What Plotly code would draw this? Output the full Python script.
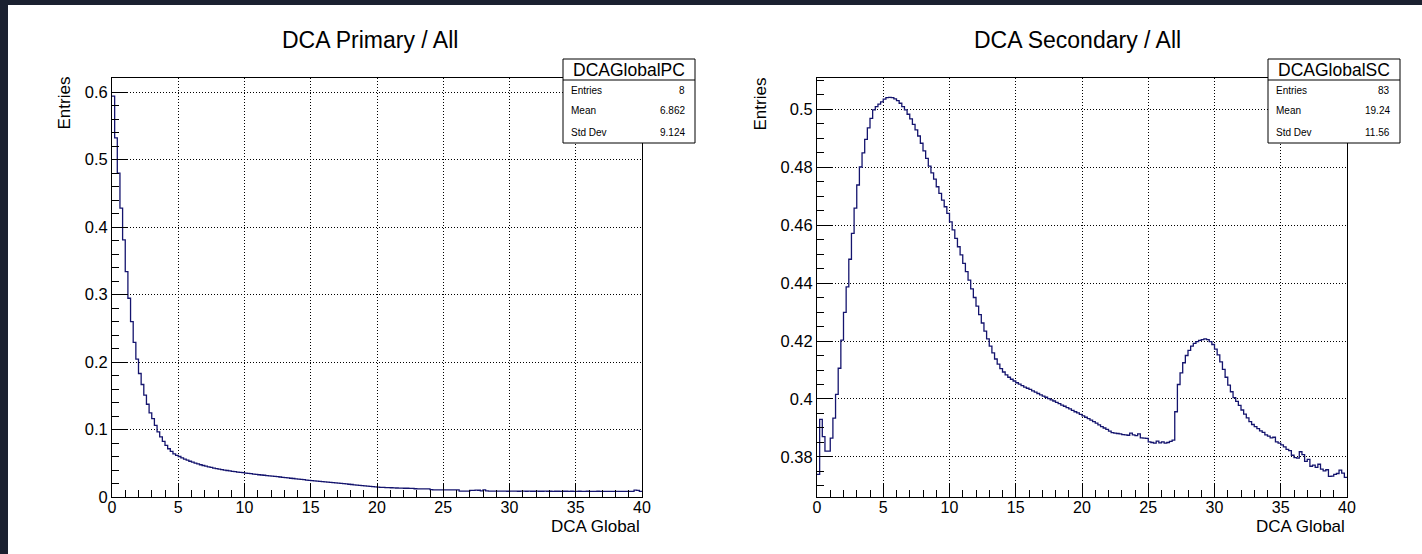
import numpy as np
import plotly.graph_objects as go

# ---------------------------------------------------------------- data
x_lo, x_hi, n_bins = 0.0, 40.0, 200

primary_vals = [
    0.594, 0.532, 0.480, 0.428, 0.381, 0.334, 0.2945, 0.2597, 0.229, 0.2043,
    0.183, 0.1667, 0.1508, 0.1374, 0.1245, 0.116, 0.106, 0.0965, 0.089, 0.0825,
    0.0765, 0.0715, 0.0675, 0.064, 0.0618, 0.0600, 0.0580, 0.0562, 0.0545, 0.0530,
    0.0516, 0.0503, 0.0490, 0.0478, 0.0467, 0.0457, 0.0447, 0.0438, 0.0429, 0.0421,
    0.0413, 0.0406, 0.0399, 0.0393, 0.0387, 0.0381, 0.0375, 0.0370, 0.0365, 0.0360,
    0.0355, 0.0350, 0.0345, 0.0340, 0.0335, 0.0330, 0.0326, 0.0322, 0.0318, 0.0314,
    0.0310, 0.0305, 0.0301, 0.0296, 0.0292, 0.0287, 0.0283, 0.0278, 0.0274, 0.0269,
    0.0265, 0.0260, 0.0256, 0.0251, 0.0247, 0.0242, 0.0238, 0.0234, 0.0231, 0.0227,
    0.0223, 0.0220, 0.0216, 0.0212, 0.0209, 0.0205, 0.0201, 0.0197, 0.0193, 0.0189,
    0.0185, 0.0181, 0.0177, 0.0173, 0.0169, 0.0165, 0.0161, 0.0157, 0.0153, 0.0150,
    0.0146, 0.0144, 0.0142, 0.0140, 0.0138, 0.0137, 0.0135, 0.0133, 0.0131, 0.0131,
    0.0130, 0.0130, 0.0129, 0.0128, 0.0122, 0.0121, 0.0121, 0.0120, 0.0120, 0.0119,
    0.0108, 0.0107, 0.0107, 0.0107, 0.0106, 0.0106, 0.0106, 0.0105, 0.0105, 0.0105,
    0.0105, 0.0088, 0.0088, 0.0087, 0.0087, 0.0099, 0.0097, 0.0101, 0.0100, 0.0090,
    0.0105, 0.0092, 0.0088, 0.0087, 0.0086, 0.0087, 0.0086, 0.0087, 0.0086, 0.0085,
    0.0086, 0.0087, 0.0086, 0.0085, 0.0086, 0.0086, 0.0085, 0.0086, 0.0085, 0.0085,
    0.0086, 0.0085, 0.0085, 0.0086, 0.0085, 0.0085, 0.0084, 0.0085, 0.0085, 0.0084,
    0.0085, 0.0085, 0.0084, 0.0085, 0.0084, 0.0084, 0.0085, 0.0084, 0.0084, 0.0085,
    0.0084, 0.0084, 0.0084, 0.0085, 0.0084, 0.0084, 0.0084, 0.0083, 0.0084, 0.0084,
    0.0084, 0.0083, 0.0084, 0.0084, 0.0083, 0.0084, 0.0083, 0.0101, 0.0099, 0.0084,
]

secondary_vals = [
    0.374, 0.393, 0.387, 0.382, 0.382, 0.3865, 0.3934, 0.4016, 0.4106, 0.4203,
    0.4299, 0.4387, 0.4482, 0.4571, 0.4658, 0.4738, 0.4800, 0.4849, 0.4895, 0.4935,
    0.4968, 0.4997, 0.5008, 0.5017, 0.5025, 0.5034, 0.5039, 0.5040, 0.5039, 0.5035,
    0.5029, 0.5020, 0.5008, 0.4997, 0.4982, 0.4966, 0.4947, 0.4928, 0.4907, 0.4882,
    0.4856, 0.4830, 0.4803, 0.4780, 0.4758, 0.4732, 0.4709, 0.4686, 0.4663, 0.4640,
    0.4611, 0.4583, 0.4554, 0.4525, 0.4497, 0.4468, 0.4439, 0.4410, 0.4380, 0.4350,
    0.4320, 0.4291, 0.4262, 0.4234, 0.4207, 0.4182, 0.4159, 0.4138, 0.4120, 0.4105,
    0.4093, 0.4083, 0.4075, 0.4068, 0.4062, 0.4056, 0.4051, 0.4046, 0.4041, 0.4037,
    0.4033, 0.4028, 0.4024, 0.4019, 0.4014, 0.4010, 0.4006, 0.4001, 0.3997, 0.3993,
    0.3988, 0.3984, 0.3979, 0.3975, 0.3970, 0.3966, 0.3961, 0.3956, 0.3952, 0.3947,
    0.3942, 0.3937, 0.3932, 0.3927, 0.3922, 0.3917, 0.3911, 0.3905, 0.3900, 0.3895,
    0.3889, 0.3884, 0.3882, 0.3881, 0.3880, 0.3877, 0.3876, 0.3875, 0.3882, 0.3876,
    0.3874, 0.3880, 0.3866, 0.3865, 0.3864, 0.3852, 0.3850, 0.3848, 0.3855, 0.3849,
    0.3852, 0.3848, 0.3850, 0.3854, 0.3858, 0.3956, 0.4050, 0.4090, 0.4125, 0.4150,
    0.4168, 0.4182, 0.4192, 0.4198, 0.4202, 0.4205, 0.4207, 0.4205, 0.4198, 0.4188,
    0.4172, 0.4152, 0.4128, 0.4102, 0.4075, 0.4048, 0.4025, 0.4005, 0.3992, 0.3978,
    0.3962, 0.3948, 0.3935, 0.3922, 0.3912, 0.3905, 0.3898, 0.3890, 0.3885, 0.3876,
    0.3872, 0.3866, 0.3868, 0.3852, 0.3848, 0.3842, 0.3835, 0.3826, 0.3822, 0.3806,
    0.3798, 0.3796, 0.3818, 0.3808, 0.3785, 0.3792, 0.3768, 0.3772, 0.3764, 0.3775,
    0.3758, 0.3752, 0.3756, 0.3733, 0.3734, 0.3740, 0.3743, 0.3755, 0.3744, 0.3730,
]

x_ticks = [0, 5, 10, 15, 20, 25, 30, 35, 40]
x_tick_labels = ["0", "5", "10", "15", "20", "25", "30", "35", "40"]
y1_ticks = [0, 0.1, 0.2, 0.3, 0.4, 0.5, 0.6]
y1_tick_labels = ["0", "0.1", "0.2", "0.3", "0.4", "0.5", "0.6"]
y2_ticks = [0.38, 0.40, 0.42, 0.44, 0.46, 0.48, 0.50]
y2_tick_labels = ["0.38", "0.4", "0.42", "0.44", "0.46", "0.48", "0.5"]

titles = ["DCA Primary / All", "DCA Secondary / All"]
x_title = "DCA Global"
y_title = "Entries"
stat_names = ["DCAGlobalPC", "DCAGlobalSC"]
stat_labels = ["Entries", "Mean", "Std Dev"]
stat_values = [["8", "6.862", "9.124"], ["83", "19.24", "11.56"]]

# ---------------------------------------------------------------- layout helpers
W, H = 1422, 554
FONT = "Liberation Sans, Arial, Helvetica, sans-serif"
LINE = "#14146e"
BORDER = "#1b2130"


def px(x):
    return x / W


def py(y):
    return 1 - y / H


edges = np.linspace(x_lo, x_hi, n_bins + 1)


def step_trace(vals, xa, ya):
    y = list(vals) + [vals[-1]]
    return go.Scatter(x=edges, y=y, mode="lines", line=dict(color=LINE, width=1.3, shape="hv"),
                      xaxis=xa, yaxis=ya, hoverinfo="skip", showlegend=False)


fig = go.Figure()
fig.add_trace(step_trace(primary_vals, "x", "y"))
fig.add_trace(step_trace(secondary_vals, "x2", "y2"))

frames = [(112, 642), (817, 1347)]
frame_top, frame_bot = 78, 497


def xaxis(dom, anchor):
    return dict(domain=[px(dom[0]), px(dom[1])], anchor=anchor, range=[x_lo, x_hi],
                automargin=False, ticklabelstandoff=-4,
                tickvals=x_ticks, ticktext=x_tick_labels, ticks="inside", ticklen=13,
                tickcolor="black", tickwidth=1,
                minor=dict(dtick=1, tick0=0, ticks="inside", ticklen=7, tickcolor="black",
                           tickwidth=1, showgrid=False),
                showline=True, linecolor="black", linewidth=1, mirror=True,
                showgrid=True, gridcolor="black", gridwidth=1, griddash="1px,2px",
                zeroline=False, tickfont=dict(family=FONT, size=16, color="black"))


def yaxis(anchor, rng, tv, tt, mdt):
    return dict(domain=[py(frame_bot), py(frame_top)], anchor=anchor, range=rng,
                automargin=False,
                tickvals=tv, ticktext=tt, ticks="inside", ticklen=16,
                tickcolor="black", tickwidth=1,
                minor=dict(dtick=mdt, tick0=0, ticks="inside", ticklen=7, tickcolor="black",
                           tickwidth=1, showgrid=False),
                showline=True, linecolor="black", linewidth=1, mirror=True,
                showgrid=True, gridcolor="black", gridwidth=1, griddash="1px,2px",
                zeroline=False, tickfont=dict(family=FONT, size=16.5, color="black"))


shapes = [
    # white canvas inside the dark window border
    dict(type="rect", xref="paper", yref="paper", x0=px(8), x1=1.02, y0=-0.05, y1=py(5),
         fillcolor="white", line=dict(width=0), layer="below"),
]
annotations = []

title_cx = [370, 1077]
ytitle_cx = [64, 760]
box_x = [(563, 695), (1268, 1400)]
box_top, box_sep, box_bot = 59, 80, 143
row_y = [90.5, 111, 132.5]

for i in range(2):
    fx0, fx1 = frames[i]
    annotations.append(dict(text=titles[i], x=px(title_cx[i]), y=py(40), xref="paper", yref="paper",
                            showarrow=False, xanchor="center", yanchor="middle",
                            font=dict(family=FONT, size=23, color="black")))
    annotations.append(dict(text=y_title, x=px(ytitle_cx[i]), y=py(103.5), xref="paper", yref="paper",
                            textangle=-90, showarrow=False, xanchor="center", yanchor="middle",
                            font=dict(family=FONT, size=17, color="black")))
    annotations.append(dict(text=x_title, x=px(fx1), y=py(526), xref="paper", yref="paper",
                            showarrow=False, xanchor="right", yanchor="middle",
                            font=dict(family=FONT, size=17, color="black")))
    # statistics box
    bx0, bx1 = box_x[i]
    shapes.append(dict(type="rect", xref="paper", yref="paper", x0=px(bx0), x1=px(bx1),
                       y0=py(box_bot), y1=py(box_top), fillcolor="white",
                       line=dict(color="black", width=1), layer="above"))
    shapes.append(dict(type="line", xref="paper", yref="paper", x0=px(bx0), x1=px(bx1),
                       y0=py(box_sep), y1=py(box_sep), line=dict(color="black", width=1),
                       layer="above"))
    annotations.append(dict(text=stat_names[i], x=px((bx0 + bx1) / 2), y=py((box_top + box_sep) / 2),
                            xref="paper", yref="paper", showarrow=False, xanchor="center",
                            yanchor="middle", font=dict(family=FONT, size=17.5, color="black")))
    for lab, val, ry in zip(stat_labels, stat_values[i], row_y):
        annotations.append(dict(text=lab, x=px(bx0 + 6), y=py(ry), xref="paper", yref="paper",
                                showarrow=False, xanchor="left", yanchor="middle",
                                font=dict(family=FONT, size=10, color="black")))
        annotations.append(dict(text=val, x=px(bx1 - 8), y=py(ry), xref="paper", yref="paper",
                                showarrow=False, xanchor="right", yanchor="middle",
                                font=dict(family=FONT, size=10, color="black")))

fig.update_layout(
    width=W, height=H, autosize=False, margin=dict(l=0, r=0, t=0, b=0, pad=0),
    paper_bgcolor=BORDER, plot_bgcolor="white", showlegend=False,
    xaxis=xaxis(frames[0], "y"),
    yaxis=yaxis("x", [0, 0.6208], y1_ticks, y1_tick_labels, 0.02),
    xaxis2=xaxis(frames[1], "y2"),
    yaxis2=yaxis("x2", [0.3662, 0.5107], y2_ticks, y2_tick_labels, 0.005),
    shapes=shapes, annotations=annotations,
)

fig.write_html("out.html")
